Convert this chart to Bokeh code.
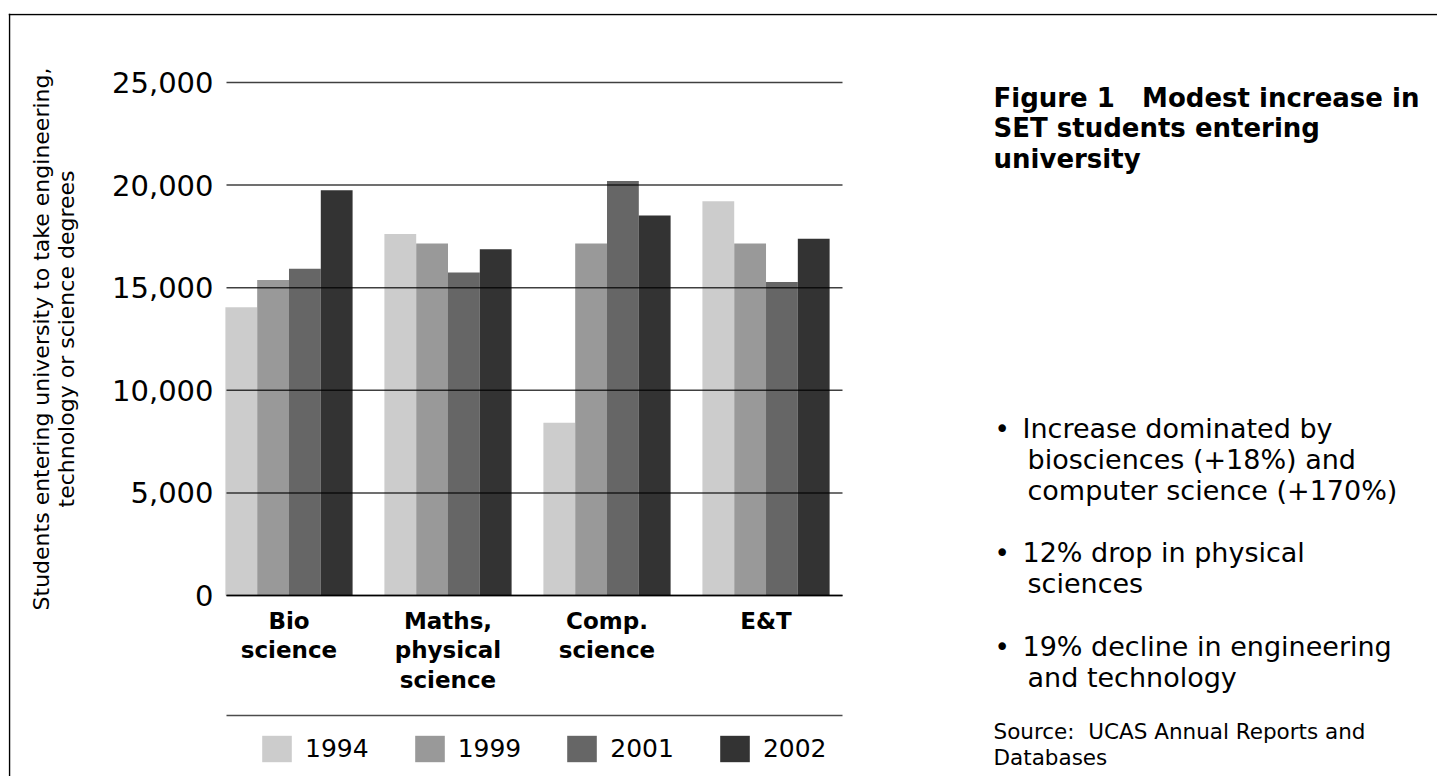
from bokeh.plotting import figure
from bokeh.models import (ColumnDataSource, FixedTicker, LinearAxis, Legend, LegendItem,
                          Label, Range1d, NumeralTickFormatter, Span)
from bokeh.embed import file_html
from bokeh.resources import INLINE

# ---------------- data ----------------
categories = ["Bio\nscience", "Maths,\nphysical\nscience", "Comp.\nscience", "E&T"]
years = ["1994", "1999", "2001", "2002"]
v1994 = [14050, 17620, 8420, 19210]
v1999 = [15380, 17160, 17160, 17160]
v2001 = [15920, 15740, 20200, 15280]
v2002 = [19750, 16870, 18520, 17390]
y_ticks = [0, 5000, 10000, 15000, 20000, 25000]
colors = ["#cccccc", "#999999", "#666666", "#333333"]
series = [v1994, v1999, v2001, v2002]

title_lines = ["Figure 1\u00a0\u00a0\u00a0Modest increase in", "SET students entering", "university"]
bullets = [
    ["Increase dominated by", "biosciences (+18%) and", "computer science (+170%)"],
    ["12% drop in physical", "sciences"],
    ["19% decline in engineering", "and technology"],
]
source_lines = ["Source:\u00a0\u00a0UCAS Annual Reports and", "Databases"]

# ---------------- layout (pixels) ----------------
FONT = "DejaVu Sans"
W, H = 1437, 776
FL, FT = 8, 13                 # frame spans [FL, W] x [FT, H]
AX_L, AX_R = 226, 842          # chart area
AX_T, AX_B = 82, 595           # pixel rows of 25,000 and 0
XL, XR = -0.393, 3.481         # data x at AX_L / AX_R
YB, YT = 0.0, 25000.0


def xd(px):
    return XL + (px - AX_L) * (XR - XL) / (AX_R - AX_L)


def yd(py):
    return YB + (AX_B - py) * (YT - YB) / (AX_B - AX_T)


p = figure(width=W, height=H, output_backend="svg", toolbar_location=None,
           x_range=Range1d(xd(FL), xd(W)), y_range=Range1d(yd(H), yd(FT)),
           min_border_left=FL, min_border_right=0, min_border_top=FT, min_border_bottom=0)
p.outline_line_color = None
p.background_fill_color = "white"
p.border_fill_color = "white"
p.xgrid.visible = False
p.ygrid.visible = False

offsets = [-0.3, -0.1, 0.1, 0.3]
renderers = []
for j, (vals, col) in enumerate(zip(series, colors)):
    src = ColumnDataSource(dict(x=[i + offsets[j] for i in range(len(categories))], top=vals))
    r = p.vbar(x="x", top="top", bottom=0, width=0.2, source=src,
               fill_color=col, line_color=None)
    renderers.append(r)

# horizontal grid lines drawn over the bars, limited to the chart area
p.segment(x0=[xd(AX_L)] * len(y_ticks), x1=[xd(AX_R)] * len(y_ticks), y0=y_ticks, y1=y_ticks,
          line_color="black", line_alpha=0.75, line_width=1.5)

# y axis, fixed at the left edge of the chart area
ya = p.yaxis[0]
ya.fixed_location = xd(AX_L)
ya.bounds = (YB, YT)
ya.ticker = FixedTicker(ticks=y_ticks)
ya.formatter = NumeralTickFormatter(format="0,0")
ya.axis_line_color = None
ya.major_tick_line_color = None
ya.minor_tick_line_color = None
ya.major_label_text_font = FONT
ya.major_label_text_font_size = "29px"
ya.major_label_text_color = "black"
ya.major_label_standoff = 7
ya.axis_label = "Students entering university to take engineering,\ntechnology or science degrees"
ya.axis_label_text_font = FONT
ya.axis_label_text_font_size = "22px"
ya.axis_label_text_font_style = "normal"
ya.axis_label_text_color = "black"
ya.axis_label_text_line_height = 1.0
ya.axis_label_standoff = 30

# x axis (categories), fixed at zero
xa = p.xaxis[0]
xa.fixed_location = 0
xa.bounds = (xd(AX_L), xd(AX_R))
xa.ticker = FixedTicker(ticks=list(range(len(categories))))
xa.major_label_overrides = {i: c for i, c in enumerate(categories)}
xa.major_label_text_font = FONT
xa.major_label_text_font_size = "23px"
xa.major_label_text_font_style = "bold"
xa.major_label_text_color = "black"
xa.major_label_text_line_height = 1.14
xa.major_label_standoff = 6
xa.major_tick_line_color = None
xa.minor_tick_line_color = None
xa.axis_line_color = "black"
xa.axis_line_width = 1.5

# separator line above the legend
ax2 = LinearAxis(fixed_location=yd(715), bounds=(xd(AX_L), xd(AX_R)),
                 ticker=FixedTicker(ticks=[]), axis_line_color="black", axis_line_alpha=0.7,
                 axis_line_width=1.5, major_tick_line_color=None, minor_tick_line_color=None,
                 major_label_text_font_size="0px")
p.add_layout(ax2, "below")

legend = Legend(items=[LegendItem(label=y, renderers=[r]) for y, r in zip(years, renderers)],
                orientation="horizontal", location=(258 - FL, H - 765),
                glyph_width=37, glyph_height=33, label_standoff=10, spacing=42,
                label_width=63, label_height=33,
                label_text_font=FONT, label_text_font_size="25px", label_text_color="black",
                border_line_color=None, background_fill_alpha=0, padding=0, margin=0)
p.add_layout(legend)

# outer border (left and top)
p.add_layout(Span(location=xd(9), dimension="height", line_color="black", line_width=1.5))
p.add_layout(Span(location=yd(14), dimension="width", line_color="black", line_width=1.5))


def add_text(text, cx, cy, size, bold=False):
    p.add_layout(Label(x=xd(cx), y=yd(cy), text=text,
                       text_font=FONT, text_font_size=size,
                       text_font_style="bold" if bold else "normal",
                       text_color="black", text_baseline="middle", text_align="left"))


for k, line in enumerate(title_lines):
    add_text(line, 993, 97 + 30.5 * k, "26px", bold=True)

bullet_y = [428, 552, 646]
for by, lines in zip(bullet_y, bullets):
    add_text("\u2022", 994, by, "26px")
    for k, line in enumerate(lines):
        add_text(line, 1022 if k == 0 else 1027, by + 31 * k, "27px")

for k, line in enumerate(source_lines):
    add_text(line, 993, 731 + 26 * k, "21.5px")

open("out.html", "w").write(file_html(p, INLINE))
